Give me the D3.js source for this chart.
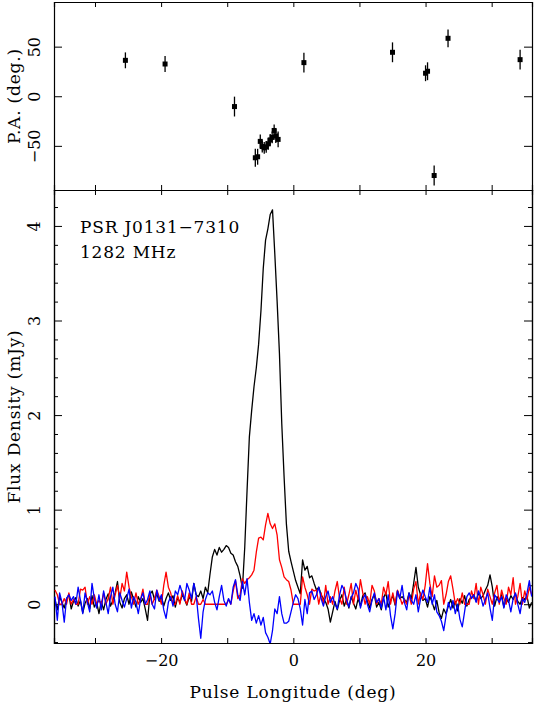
<!DOCTYPE html>
<html>
<head>
<meta charset="utf-8">
<script src="https://cdn.jsdelivr.net/npm/d3@7"></script>
<style>
  body { margin: 0; background: #fff; }
  svg { display: block; }
  text { font-family: "DejaVu Serif", serif; font-size: 16px; fill: #000; }
  text.label { font-size: 17px; letter-spacing: 0.8px; }
</style>
</head>
<body>
<svg id="chart" width="534" height="708"></svg>
<script>
"use strict";

// Bins du profil (en degrés de longitude)
var lonStart = -36.05
var binWidth = 0.35

// Intensité totale (mJy)
var stokesI = [
  0.05, -0.06, 0.08, 0.02, -0.04, 0.06, 0.10, -0.05, 0.03, 0.07,
  -0.02, 0.04, -0.09, 0.01, 0.06, -0.05, 0.09, -0.03, 0.02, -0.10,
  0.03, -0.06, 0.05, 0.11, -0.02, 0.04, 0.12, 0.24, 0.02, -0.04,
  0.06, 0.10, 0.00, 0.13, 0.05, -0.03, 0.08, 0.02, 0.06, -0.05,
  -0.17, 0.10, 0.14, 0.05, 0.11, 0.03, 0.08, -0.02, 0.06, 0.12,
  0.04, 0.09, -0.03, 0.07, 0.02, 0.10, 0.05, -0.01, 0.08, 0.03,
  0.22, 0.10, 0.08, 0.14, 0.06, 0.18, 0.12, 0.32, 0.50, 0.58,
  0.52, 0.60, 0.55, 0.58, 0.62, 0.60, 0.54, 0.52, 0.45, 0.40,
  0.30, 0.17, 0.60, 1.20, 1.77, 2.05, 2.30, 2.50, 2.75, 3.10,
  3.55, 3.85, 3.97, 4.12, 4.17, 3.70, 3.20, 2.65, 1.91, 1.35,
  0.85, 0.56, 0.45, 0.35, 0.25, 0.18, 0.11, 0.47, 0.36, 0.40,
  0.28, 0.30, 0.22, 0.15, 0.18, 0.10, 0.06, 0.02, -0.05, -0.19,
  -0.08, 0.03, -0.06, 0.04, 0.10, -0.02, 0.05, -0.04, 0.08, 0.01,
  -0.05, 0.06, -0.02, 0.09, 0.12, 0.03, -0.04, 0.05, 0.10, -0.03,
  0.02, -0.06, 0.07, 0.12, -0.03, 0.04, 0.09, -0.01, 0.14, 0.06,
  0.08, 0.05, 0.02, 0.12, 0.06, 0.22, 0.39, 0.18, 0.10, 0.04,
  0.06, -0.03, 0.08, 0.02, -0.06, 0.04, -0.09, -0.15, -0.05, -0.10,
  -0.02, 0.05, -0.04, 0.03, -0.07, 0.06, 0.01, 0.09, -0.02, 0.05,
  0.07, 0.10, 0.03, 0.12, 0.06, 0.09, 0.15, 0.20, 0.31, 0.18,
  -0.02, 0.08, 0.04, 0.10, -0.03, 0.06, 0.02, 0.09, 0.05, 0.11,
  0.03, 0.00, 0.07, 0.05, 0.08, -0.04, 0.02
]

// Polarisation linéaire (mJy)
var linearL = [
  0.15, 0.10, 0.00, 0.00, 0.06, 0.00, 0.12, 0.00, 0.05, 0.00,
  0.00, 0.16, 0.15, 0.18, 0.00, 0.08, 0.00, 0.10, 0.00, 0.04,
  0.00, 0.12, 0.00, 0.06, 0.18, 0.00, 0.10, 0.20, 0.06, 0.22,
  0.14, 0.34, 0.18, 0.08, 0.00, 0.12, 0.00, 0.05, 0.16, 0.00,
  0.00, 0.10, 0.00, 0.06, 0.15, 0.08, 0.00, 0.20, 0.34, 0.18,
  0.12, 0.00, 0.00, 0.09, 0.00, 0.14, 0.06, 0.00, 0.12, 0.00,
  0.00, 0.08, 0.00, 0.00, 0.05, 0.00, 0.00, 0.00, 0.00, 0.00,
  0.00, 0.00, 0.00, 0.00, 0.00, 0.05, 0.00, 0.14, 0.25, 0.06,
  0.10, 0.27, 0.22, 0.26, 0.28, 0.31, 0.36, 0.55, 0.70, 0.71,
  0.68, 0.84, 0.96, 0.85, 0.80, 0.85, 0.73, 0.47, 0.39, 0.29,
  0.26, 0.24, 0.15, 0.00, 0.00, 0.00, 0.00, 0.29, 0.18, 0.10,
  0.00, 0.16, 0.14, 0.15, 0.00, 0.12, 0.00, 0.20, 0.00, 0.08,
  0.00, 0.14, 0.24, 0.06, 0.00, 0.18, 0.00, 0.10, 0.22, 0.00,
  0.15, 0.05, 0.26, 0.12, 0.00, 0.08, 0.00, 0.20, 0.14, 0.00,
  0.06, 0.00, 0.18, 0.10, 0.24, 0.00, 0.12, 0.00, 0.15, 0.08,
  0.00, 0.05, 0.00, 0.10, 0.00, 0.16, 0.24, 0.00, 0.12, 0.05,
  0.20, 0.43, 0.22, 0.08, 0.30, 0.18, 0.20, 0.25, 0.00, 0.10,
  0.24, 0.30, 0.16, 0.00, 0.06, 0.00, 0.12, 0.00, 0.00, 0.00,
  0.14, 0.06, 0.22, 0.00, 0.18, 0.10, 0.00, 0.16, 0.08, 0.00,
  0.12, 0.20, 0.00, 0.15, 0.06, 0.00, 0.18, 0.10, 0.28, 0.00,
  0.08, 0.22, 0.00, 0.14, 0.05, 0.18, 0.10
]

// Polarisation circulaire (mJy)
var circularV = [
  0.08, -0.17, 0.12, 0.02, -0.19, 0.06, 0.10, 0.04, 0.08, 0.00,
  0.18, 0.04, -0.10, 0.12, 0.02, -0.08, 0.22, 0.06, -0.04, 0.10,
  -0.06, 0.14, 0.02, -0.10, 0.08, 0.18, 0.00, -0.08, 0.12, 0.04,
  -0.03, 0.06, 0.16, -0.04, 0.08, 0.02, -0.10, 0.05, 0.12, 0.00,
  0.05, 0.14, 0.00, -0.05, 0.15, 0.04, 0.10, -0.06, -0.15, 0.02,
  0.08, -0.02, 0.14, 0.10, 0.20, 0.12, 0.04, 0.22, 0.15, 0.06,
  0.22, 0.10, -0.15, -0.36, -0.08, 0.05, 0.12, 0.10, 0.14, 0.02,
  -0.06, 0.08, 0.20, 0.04, -0.02, 0.06, 0.00, 0.18, 0.26, 0.10,
  0.04, 0.24, 0.10, 0.27, 0.02, -0.17, -0.10, -0.20, -0.12, -0.22,
  -0.14, -0.30, -0.35, -0.42, -0.28, -0.05, -0.10, 0.08, -0.10, -0.20,
  -0.20, -0.18, -0.08, 0.02, 0.10, 0.06, -0.05, -0.22, 0.05, -0.10,
  0.12, 0.14, 0.05, 0.10, 0.18, 0.06, -0.02, 0.08, 0.14, 0.02,
  0.08, 0.00, -0.05, 0.10, 0.20, 0.15, 0.05, -0.03, 0.07, 0.12,
  0.22, 0.16, -0.04, 0.06, 0.10, 0.00, -0.08, 0.04, 0.12, 0.02,
  0.06, -0.04, 0.08, -0.06, 0.10, -0.12, -0.26, -0.10, 0.14, 0.06,
  0.20, 0.02, -0.06, 0.12, 0.04, 0.00, 0.10, -0.08, 0.06, 0.15,
  0.08, 0.02, 0.18, 0.00, 0.10, -0.08, -0.12, -0.18, -0.28, -0.12,
  0.02, -0.06, 0.04, -0.10, 0.00, -0.16, -0.24, -0.08, 0.08, 0.12,
  0.06, 0.10, 0.02, 0.14, 0.08, -0.02, 0.05, 0.12, -0.04, -0.17,
  0.10, 0.06, 0.02, 0.08, -0.04, 0.10, 0.04, -0.08, 0.06, 0.12,
  0.00, -0.10, 0.06, 0.02, 0.12, 0.25, 0.08
]

// Angle de position : longitude (deg), P.A. (deg), erreur (deg)
var paLon = [-25.4, -19.4, -8.9, -5.75, -5.4, -5.0, -4.7, -4.4, -4.1, -3.8, -3.5, -3.2, -2.9, -2.65, -2.3,
  1.6, 15.0, 20.0, 20.3, 21.3, 23.4, 34.3]
var paVal = [36.2, 32.5, -10.4, -62, -61, -45.5, -50.7, -52, -51, -48, -44, -41.5, -34.5, -40, -43.5,
  33.9, 44.3, 23.2, 25.2, -79.9, 58.4, 36.9]
var paErr = [8, 8, 10, 9, 8, 7, 6, 6, 6, 6, 6, 6, 6, 7, 8,
  10, 10, 8, 9, 10, 9, 10]

var xTicks = [-30, -20, -10, 0, 10, 20, 30]
var xLabels = [-20, 0, 20]
var paTicks = [-50, 0, 50]
var fluxMajor = [0, 1, 2, 3, 4]
var fluxMinor = [-0.4, -0.2, 0.2, 0.4, 0.6, 0.8, 1.2, 1.4, 1.6, 1.8, 2.2, 2.4, 2.6, 2.8, 3.2, 3.4, 3.6, 3.8, 4.2]

var svg = d3.select("#chart")
var plotLeft = 54, plotRight = 532, plotTop = 2, plotMid = 190, plotBottom = 643

var x = d3.scaleLinear().domain([-36.2, 36.1]).range([plotLeft, plotRight])
var yPA = d3.scaleLinear().domain([-94.5, 95]).range([plotMid, plotTop])
var yI = d3.scaleLinear().domain([-0.41, 4.38]).range([plotBottom, plotMid])

var noLabel = function() { return "" }

/**
 * Dessine les quatre axes d'un panneau, graduations vers l'intérieur.
 */
function frame(y, y0, y1, yTicks, showX) {
  svg.append("g").attr("class", "xaxis").attr("transform", "translate(0," + y1 + ")")
    .call(d3.axisBottom(x).tickValues(xTicks).tickSize(-5).tickPadding(12)
      .tickFormat(function(d) { return showX && xLabels.indexOf(d) >= 0 ? d3.format("d")(d) : "" }))
  svg.append("g").attr("transform", "translate(0," + y0 + ")")
    .call(d3.axisTop(x).tickValues(xTicks).tickSize(-5).tickFormat(noLabel))
  yTicks.forEach(function(t) {
    svg.append("g").attr("class", "yaxis").attr("transform", "translate(" + plotLeft + ",0)")
      .call(d3.axisLeft(y).tickValues(t.values).tickSize(-t.len).tickFormat(t.label ? d3.format("d") : noLabel))
    svg.append("g").attr("transform", "translate(" + plotRight + ",0)")
      .call(d3.axisRight(y).tickValues(t.values).tickSize(-t.len).tickFormat(noLabel))
  })
}

frame(yPA, plotTop, plotMid, [{ values: paTicks, len: 8, label: true }], false)
frame(yI, plotMid, plotBottom, [
  { values: fluxMinor, len: 4, label: false },
  { values: fluxMajor, len: 8, label: true }
], true)

svg.selectAll(".domain").attr("stroke", "#000").attr("stroke-width", 1.2)
svg.selectAll(".tick line").attr("stroke", "#000").attr("stroke-width", 1)
svg.selectAll(".tick text")
  .attr("font-family", "DejaVu Serif").attr("font-size", 16).attr("fill", "#000")

// étiquettes verticales de l'axe y (style PGPLOT)
svg.selectAll(".yaxis .tick text")
  .attr("x", null).attr("dy", null)
  .attr("text-anchor", "middle")
  .attr("transform", "translate(-14,0) rotate(-90)")

// titres des axes
svg.append("text").attr("class", "label").attr("text-anchor", "middle")
  .attr("transform", "translate(20," + (plotTop + plotMid) / 2 + ") rotate(-90)")
  .text("P.A. (deg.)")
svg.append("text").attr("class", "label").attr("text-anchor", "middle")
  .attr("transform", "translate(20," + (plotMid + plotBottom) / 2 + ") rotate(-90)")
  .text("Flux Density (mJy)")
svg.append("text").attr("class", "label").attr("text-anchor", "middle")
  .attr("x", (plotLeft + plotRight) / 2).attr("y", 698)
  .text("Pulse Longitude (deg)")

svg.append("text").attr("class", "label").attr("x", 80).attr("y", 233).text("PSR J0131\u22127310")
svg.append("text").attr("class", "label").attr("x", 80).attr("y", 258).text("1282 MHz")

// profils
svg.append("clipPath").attr("id", "clipI")
  .append("rect").attr("x", plotLeft).attr("y", plotMid)
  .attr("width", plotRight - plotLeft).attr("height", plotBottom - plotMid)

var line = d3.line()
  .x(function(d, i) { return x(lonStart + i * binWidth) })
  .y(function(d) { return yI(d) })

var profiles = [
  { values: stokesI, color: "#000000" },
  { values: linearL, color: "#ff0000" },
  { values: circularV, color: "#0000ff" }
]

svg.append("g").attr("clip-path", "url(#clipI)")
  .selectAll("path")
  .data(profiles)
  .enter()
  .append("path")
    .attr("d", function(d) { return line(d.values) })
    .attr("fill", "none")
    .attr("stroke", function(d) { return d.color })
    .attr("stroke-width", 1.3)
    .attr("stroke-linejoin", "round")

// angle de position avec barres d'erreur
var pa = svg.append("g")
pa.selectAll("line")
  .data(paLon)
  .enter()
  .append("line")
    .attr("x1", function(d) { return x(d) })
    .attr("x2", function(d) { return x(d) })
    .attr("y1", function(d, i) { return yPA(paVal[i] - paErr[i]) })
    .attr("y2", function(d, i) { return yPA(paVal[i] + paErr[i]) })
    .attr("stroke", "#000")
    .attr("stroke-width", 1.3)
pa.selectAll("rect")
  .data(paLon)
  .enter()
  .append("rect")
    .attr("x", function(d) { return x(d) - 2.5 })
    .attr("y", function(d, i) { return yPA(paVal[i]) - 2.5 })
    .attr("width", 5)
    .attr("height", 5)
    .attr("fill", "#000")
</script>
</body>
</html>
